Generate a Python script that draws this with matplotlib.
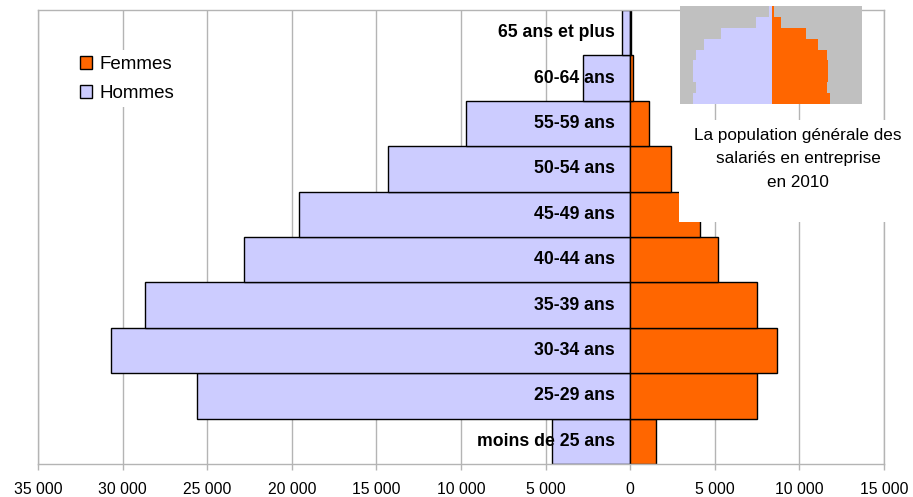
import matplotlib.pyplot as plt
from matplotlib.patches import Patch, Rectangle
from matplotlib.ticker import FuncFormatter, MultipleLocator

plt.rcParams['font.family'] = ['Liberation Sans', 'DejaVu Sans']

# Age groups, bottom to top
categories = ['moins de 25 ans', '25-29 ans', '30-34 ans', '35-39 ans', '40-44 ans',
              '45-49 ans', '50-54 ans', '55-59 ans', '60-64 ans', '65 ans et plus']
hommes = [4600, 25600, 30700, 28700, 22800, 19600, 14300, 9700, 2800, 500]
femmes = [1500, 7500, 8700, 7500, 5200, 4100, 2400, 1100, 150, 30]

# Small pyramid: general population of employees in 2010 (relative units, top to bottom)
inset_hommes = [8, 47, 153, 204, 226, 236, 236, 226, 236]
inset_femmes = [6, 29, 102, 139, 166, 170, 168, 166, 174]

lavender = '#ccccff'
orange = '#ff6600'
gridc = '#b4b4b4'

W, H = 913, 497
fig = plt.figure(figsize=(W / 100, H / 100), dpi=100)
ax = fig.add_axes([38 / W, 1 - 464 / H, (884 - 38) / W, (464 - 10) / H])

y = list(range(len(categories)))
ax.barh(y, [-v for v in hommes], height=1.0, color=lavender, edgecolor='black', linewidth=1, zorder=2)
ax.barh(y, femmes, height=1.0, color=orange, edgecolor='black', linewidth=1, zorder=2)

for i, lab in enumerate(categories):
    ax.text(-900, i, lab, ha='right', va='center', fontsize=12.7, fontweight='bold', zorder=3)

ax.set_xlim(-35000, 15000)
ax.set_ylim(-0.5, len(categories) - 0.5)
ax.xaxis.set_major_locator(MultipleLocator(5000))
ax.xaxis.set_major_formatter(FuncFormatter(lambda v, p: f'{abs(int(v)):,}'.replace(',', ' ')))
ax.set_yticks([])
ax.grid(axis='x', color=gridc, linewidth=1, zorder=0)
ax.set_axisbelow(True)
for s in ax.spines.values():
    s.set_color(gridc)
    s.set_linewidth(1)
ax.tick_params(axis='x', colors=gridc, length=4, width=1, pad=9, labelsize=11.3, labelcolor='black')

# legend
handles = [Patch(facecolor=orange, edgecolor='black', label='Femmes'),
           Patch(facecolor=lavender, edgecolor='black', label='Hommes')]
leg = ax.legend(handles=handles, loc='upper left', bbox_to_anchor=(74 / W, 1 - 50 / H),
                bbox_transform=fig.transFigure, fontsize=13.5, frameon=True, fancybox=False,
                edgecolor='none', facecolor='white', framealpha=1, handlelength=0.68,
                handleheight=0.68, handletextpad=0.4, labelspacing=0.65, borderpad=0.3,
                borderaxespad=0)
leg.set_zorder(5)

# white box behind the inset caption
ax.add_patch(Rectangle((679 / W, 1 - 222 / H), 228 / W, 102 / H, transform=fig.transFigure,
                       facecolor='white', edgecolor='none', clip_on=False, zorder=4))
fig.text(798 / W, 1 - 159 / H, 'La population générale des\nsalariés en entreprise\nen 2010',
         ha='center', va='center', fontsize=12.3, linespacing=1.72, zorder=6)

# inset pyramid
ins = fig.add_axes([680 / W, 1 - 104 / H, 182 / W, 98 / H])
ins.set_facecolor('#c0c0c0')
iy = list(range(len(inset_hommes)))[::-1]
ins.barh(iy, [-v for v in inset_hommes], height=1.0, color=lavender, linewidth=0)
ins.barh(iy, inset_femmes, height=1.0, color=orange, linewidth=0)
ins.set_xlim(-275, 271)
ins.set_ylim(-0.5, len(inset_hommes) - 0.5)
ins.set_xticks([])
ins.set_yticks([])
for s in ins.spines.values():
    s.set_visible(False)

fig.savefig('out.png', dpi=100)
